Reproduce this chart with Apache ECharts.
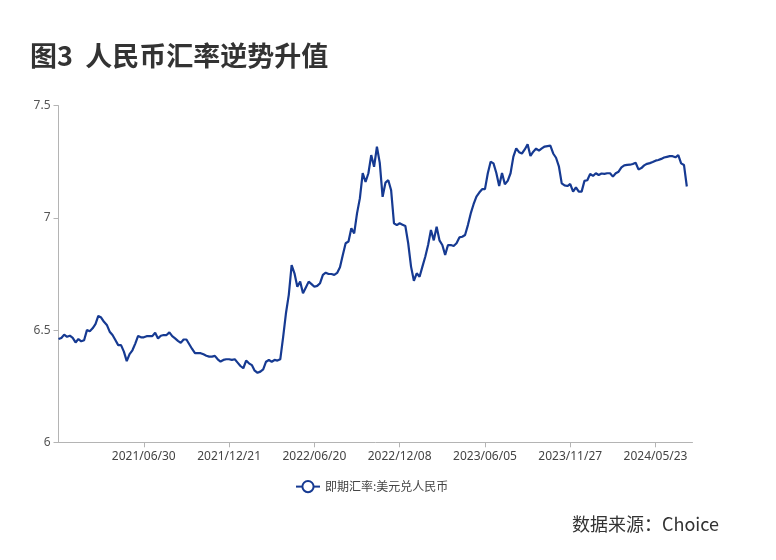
<!DOCTYPE html>
<html>
<head>
<meta charset="utf-8">
<script src="https://cdn.jsdelivr.net/npm/echarts@6/dist/echarts.min.js"></script>
<style>
html,body{margin:0;padding:0;background:#fff;}
#chart{width:776px;height:560px;}
</style>
</head>
<body>
<div id="chart"></div>
<script>
// Tick labels on the x axis (one every TICK_STEP samples)
const tickLabels = ['2021/06/30', '2021/12/21', '2022/06/20', '2022/12/08', '2023/06/05', '2023/11/27', '2024/05/23'];
const TICK_STEP = 30;
const AXIS_SLOTS = 224;
const seriesName = '即期汇率:美元兑人民币';
const yTicks = [6, 6.5, 7, 7.5];

// USD/CNY spot rate, sampled evenly from the reference picture
const rate = [
  6.46, 6.465, 6.48, 6.47, 6.475, 6.465, 6.445, 6.46, 6.45, 6.455,
  6.50, 6.495, 6.508, 6.527, 6.563, 6.556, 6.537, 6.523, 6.493, 6.478,
  6.456, 6.433, 6.433, 6.404, 6.362, 6.393, 6.41, 6.44, 6.474, 6.468,
  6.468, 6.473, 6.473, 6.473, 6.488, 6.463, 6.475, 6.478, 6.478, 6.49,
  6.473, 6.463, 6.452, 6.443, 6.458, 6.458, 6.437, 6.416, 6.397, 6.397,
  6.397, 6.392, 6.386, 6.382, 6.382, 6.385, 6.37, 6.36, 6.367, 6.37,
  6.37, 6.367, 6.37, 6.355, 6.34, 6.33, 6.364, 6.352, 6.344, 6.319,
  6.31, 6.315, 6.325, 6.359, 6.367, 6.359, 6.367, 6.364, 6.37, 6.468,
  6.575, 6.657, 6.79, 6.753, 6.693, 6.716, 6.664, 6.69, 6.716, 6.705,
  6.693, 6.697, 6.709, 6.746, 6.756, 6.75, 6.75, 6.746, 6.755, 6.78,
  6.835, 6.887, 6.895, 6.954, 6.931, 7.02, 7.087, 7.2, 7.16, 7.199,
  7.28, 7.228, 7.317, 7.245, 7.094, 7.157, 7.168, 7.123, 6.976, 6.968,
  6.976, 6.97, 6.964, 6.887, 6.783, 6.72, 6.753, 6.738, 6.783, 6.827,
  6.879, 6.946, 6.90, 6.961, 6.90, 6.879, 6.835, 6.879, 6.879, 6.875,
  6.887, 6.913, 6.916, 6.924, 6.968, 7.02, 7.061, 7.095, 7.113, 7.128,
  7.128, 7.199, 7.25, 7.243, 7.20, 7.142, 7.20, 7.15, 7.165, 7.199,
  7.273, 7.31, 7.293, 7.287, 7.305, 7.328, 7.276, 7.295, 7.309, 7.30,
  7.31, 7.318, 7.32, 7.322, 7.287, 7.268, 7.23, 7.154, 7.145, 7.142,
  7.151, 7.117, 7.136, 7.117, 7.117, 7.165, 7.168, 7.196, 7.187, 7.199,
  7.191, 7.198, 7.196, 7.199, 7.199, 7.184, 7.199, 7.206, 7.225, 7.234,
  7.236, 7.237, 7.24, 7.246, 7.216, 7.222, 7.234, 7.241, 7.244, 7.249,
  7.255, 7.258, 7.263, 7.269, 7.272, 7.275, 7.275, 7.27, 7.28, 7.243,
  7.236, 7.14
];

const categories = Array.from({length: AXIS_SLOTS}, (_, i) => String(i));
const isTick = (i) => i > 0 && i % TICK_STEP === 0;

const chart = echarts.init(document.getElementById('chart'), null, {renderer: 'canvas'});
const FONT = '"Noto Sans", "Noto Sans CJK SC", sans-serif';
chart.setOption({
  animation: false,
  backgroundColor: '#ffffff',
  title: {
    text: '图3  人民币汇率逆势升值',
    left: 25,
    top: 37,
    textStyle: {fontSize: 27, fontWeight: 'bold', color: '#333333', fontFamily: '"Noto Sans CJK SC", sans-serif'}
  },
  graphic: [{
    type: 'text',
    right: 57,
    top: 515,
    style: {text: '数据来源：Choice', fontSize: 18, fill: '#333333', fontFamily: '"Noto Sans CJK SC", sans-serif'}
  }],
  legend: {
    left: 290,
    top: 475,
    itemWidth: 24,
    itemHeight: 14,
    itemGap: 6,
    data: [seriesName],
    textStyle: {fontSize: 12, color: '#444444', fontFamily: '"Noto Sans CJK SC", sans-serif'}
  },
  grid: {left: 58.5, right: 83.5, top: 105.7, bottom: 117.7, containLabel: false},
  xAxis: {
    type: 'category',
    data: categories,
    boundaryGap: false,
    axisLine: {lineStyle: {color: '#b4b4b4', width: 1}},
    axisTick: {show: true, interval: (i) => isTick(i), length: 5, lineStyle: {color: '#b4b4b4'}},
    axisLabel: {
      interval: (i) => isTick(i),
      formatter: (v, i) => isTick(i) ? (tickLabels[i / TICK_STEP - 1] || '') : '',
      color: '#444444', fontSize: 12, margin: 8, fontFamily: FONT
    },
    splitLine: {show: false}
  },
  yAxis: {
    type: 'value',
    min: yTicks[0],
    max: yTicks[yTicks.length - 1],
    interval: 0.5,
    axisLine: {show: true, lineStyle: {color: '#b4b4b4', width: 1}},
    axisTick: {show: true, length: 5, lineStyle: {color: '#b4b4b4'}},
    axisLabel: {color: '#555555', fontSize: 12, margin: 8, fontFamily: FONT},
    splitLine: {show: false}
  },
  series: [{
    name: seriesName,
    type: 'line',
    data: rate,
    showSymbol: false,
    symbol: 'emptyCircle',
    symbolSize: 8,
    lineStyle: {color: '#163a92', width: 2.2},
    itemStyle: {color: '#163a92', borderWidth: 2}
  }]
});
</script>
</body>
</html>
